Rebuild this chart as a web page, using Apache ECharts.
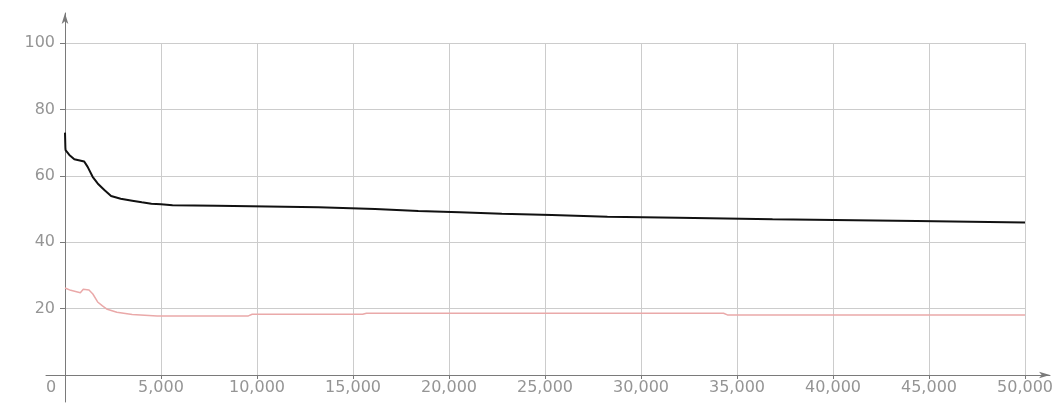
<!DOCTYPE html>
<html>
<head>
<meta charset="utf-8">
<title>Convergence</title>
<script src="https://cdn.jsdelivr.net/npm/echarts@6/dist/echarts.min.js"></script>
<style>
  html, body { margin: 0; padding: 0; background: #ffffff; }
  #chart { width: 1056px; height: 405px; }
</style>
</head>
<body>
<div id="chart"></div>
<script>
// Upper series: [iteration, value]; paired points mark the small drops
const blackSeries = [
  [0, 73.0], [20, 68.5], [30, 67.7], [225, 66.3], [485, 65.0], [1000, 64.3],
  [1180, 62.7], [1440, 59.7], [1700, 57.7], [2050, 55.7], [2400, 53.9],
  [2900, 53.1], [3500, 52.5], [4000, 52.0], [4500, 51.6], [5000, 51.4],
  [5600, 51.1], [7900, 51.0], [7950, 50.5], [13200, 50.5], [13250, 50.0],
  [16150, 50.0], [16200, 49.4], [18400, 49.4], [18450, 49.0], [20550, 49.0],
  [20600, 48.6], [22750, 48.6], [22800, 48.2], [25350, 48.2], [25400, 47.7],
  [28250, 47.7], [28300, 47.4], [31950, 47.4], [32000, 46.9], [36850, 46.9],
  [36900, 46.4], [44350, 46.4], [44400, 45.9], [50000, 45.9]
];

// Lower series: [iteration, value]
const pinkSeries = [
  [0, 26.2], [300, 25.5], [800, 24.8], [950, 25.8], [1250, 25.6],
  [1450, 24.4], [1700, 22.0], [1950, 20.8], [2200, 19.8], [2700, 18.9],
  [3500, 18.2], [4800, 17.8], [9550, 17.8], [9750, 18.3], [15500, 18.3],
  [15700, 18.6], [34300, 18.6], [34500, 18.1], [50000, 18.1]
];

// Axis ranges and tick steps
const xRange = [0, 50000];
const xStep = 5000;
const yRange = [0, 100];
const yStep = 20;

const labelColor = '#959595';
const gridColor = '#cccccc';
const axisColor = '#7a7a7a';
const font = 'DejaVu Sans';

const chart = echarts.init(document.getElementById('chart'), null, { renderer: 'canvas' });

chart.setOption({
  backgroundColor: '#ffffff',
  animation: false,
  grid: [
    // plotting area
    { left: 65, right: 30, top: 43, bottom: 30, containLabel: false },
    // frame used only for the long axis lines with arrow heads
    { left: 46, right: 6, top: 13, bottom: 3, containLabel: false }
  ],
  xAxis: [
    {
      type: 'value', gridIndex: 0,
      min: xRange[0], max: xRange[1], interval: xStep,
      axisLine: { show: false },
      axisTick: { show: true, length: 4, lineStyle: { color: axisColor } },
      splitLine: { show: true, lineStyle: { color: gridColor, width: 1 } },
      axisLabel: {
        color: labelColor, fontFamily: font, fontSize: 16, margin: 5,
        formatter: v => v === 0 ? '{z|0}' : v.toLocaleString('en-US'),
        rich: { z: { color: labelColor, fontFamily: font, fontSize: 16, padding: [0, 28, 0, 0] } }
      }
    },
    {
      type: 'value', gridIndex: 1, min: -19, max: 985,
      axisLine: {
        show: true, onZero: true,
        symbol: ['none', 'arrow'], symbolSize: [5, 11],
        lineStyle: { color: axisColor, width: 1 }
      },
      axisTick: { show: false }, axisLabel: { show: false }, splitLine: { show: false }
    }
  ],
  yAxis: [
    {
      type: 'value', gridIndex: 0,
      min: yRange[0], max: yRange[1], interval: yStep,
      axisLine: { show: false },
      axisTick: { show: true, length: 5, lineStyle: { color: axisColor } },
      splitLine: { show: true, lineStyle: { color: gridColor, width: 1 } },
      axisLabel: {
        color: labelColor, fontFamily: font, fontSize: 16, margin: 10,
        showMinLabel: false
      }
    },
    {
      type: 'value', gridIndex: 1, min: -27, max: 362,
      axisLine: {
        show: true, onZero: true,
        symbol: ['none', 'arrow'], symbolSize: [5, 11],
        lineStyle: { color: axisColor, width: 1 }
      },
      axisTick: { show: false }, axisLabel: { show: false }, splitLine: { show: false }
    }
  ],
  series: [
    {
      type: 'line', xAxisIndex: 0, yAxisIndex: 0,
      data: pinkSeries,
      showSymbol: false, symbol: 'none',
      lineStyle: { color: '#eaa9a9', width: 1.5 },
      z: 3
    },
    {
      type: 'line', xAxisIndex: 0, yAxisIndex: 0,
      data: blackSeries,
      showSymbol: false, symbol: 'none',
      lineStyle: { color: '#111111', width: 2 },
      z: 4
    }
  ]
});
</script>
</body>
</html>
